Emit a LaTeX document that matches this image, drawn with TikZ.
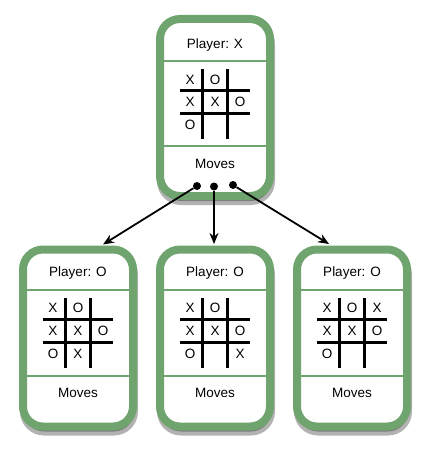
\documentclass[tikz,border=0pt]{standalone}
\usepackage{fontspec}
\setmainfont{Liberation Sans}
\usetikzlibrary{shadows,arrows.meta}
\definecolor{cardgreen}{RGB}{111,164,111}

\begin{document}
\begin{tikzpicture}[
    x=1pt, y=-1pt,
    every node/.style={text=black, font=\fontsize{13.5}{16}\selectfont},
    card/.style={draw=cardgreen, line width=8pt, fill=white, rounded corners=20pt,
                 minimum width=110pt, minimum height=177pt, inner sep=0pt,
                 drop shadow={shadow xshift=1pt, shadow yshift=-5pt, opacity=0.3,
                              fill=black, draw=black}},
    divider/.style={cardgreen, line width=2.5pt},
    grid/.style={black, line width=3pt},
    dot/.style={circle, fill=black, inner sep=0pt, minimum size=8pt},
    move/.style={-{Stealth[length=11pt, width=9pt]}, line width=1.8pt}
]
    \useasboundingbox (0,0) rectangle (430,452);

    % --- Card (Top): player X to move ---
    \begin{scope}[shift={(215,107.5)}]
        \node[card] (top) at (0,0) {};
        \draw[divider] (-51,-46.5) -- (51,-46.5);
        \draw[divider] (-51,38.5) -- (51,38.5);
        \node (top-player) at (0,-62.5) {Player: X};
        \node (top-moves) at (0,56) {Moves};

        \draw[grid] (-12.5,-39) -- (-12.5,31)
                    (12.5,-39) -- (12.5,31)
                    (-35,-17.5) -- (35,-17.5)
                    (-35,5.5) -- (35,5.5);
        \foreach \c/\r/\m in {0/0/X, 1/0/O, 0/1/X, 1/1/X, 2/1/O, 0/2/O}
            \node (top-\c\r) at (-25+25*\c, -28+22.5*\r) {\m};

        \node[dot] (top-d1) at (-18,78.5) {};
        \node[dot] (top-d2) at (-1,79) {};
        \node[dot] (top-d3) at (18,77.5) {};
    \end{scope}

    % --- Card 1 (Left) ---
    \begin{scope}[shift={(78,338)}]
        \node[card] (left) at (0,0) {};
        \draw[divider] (-51,-48) -- (51,-48);
        \draw[divider] (-51,38) -- (51,38);
        \node (left-player) at (0,-65) {Player: O};
        \node (left-moves) at (0,55) {Moves};

        \draw[grid] (-12.5,-40) -- (-12.5,30)
                    (12.5,-40) -- (12.5,30)
                    (-35,-19) -- (35,-19)
                    (-35,4) -- (35,4);
        \foreach \c/\r/\m in {0/0/X, 1/0/O, 0/1/X, 1/1/X, 2/1/O, 0/2/O, 1/2/X}
            \node (left-\c\r) at (-25+25*\c, -30+23*\r) {\m};

        \coordinate (left-in) at (25,-93.5);
    \end{scope}

    % --- Card 2 (Middle) ---
    \begin{scope}[shift={(215,338)}]
        \node[card] (mid) at (0,0) {};
        \draw[divider] (-51,-48) -- (51,-48);
        \draw[divider] (-51,38) -- (51,38);
        \node (mid-player) at (0,-65) {Player: O};
        \node (mid-moves) at (0,55) {Moves};

        \draw[grid] (-12.5,-40) -- (-12.5,30)
                    (12.5,-40) -- (12.5,30)
                    (-35,-19) -- (35,-19)
                    (-35,4) -- (35,4);
        \foreach \c/\r/\m in {0/0/X, 1/0/O, 0/1/X, 1/1/X, 2/1/O, 0/2/O, 2/2/X}
            \node (mid-\c\r) at (-25+25*\c, -30+23*\r) {\m};

        \coordinate (mid-in) at (-1,-94);
    \end{scope}

    % --- Card 3 (Right) ---
    \begin{scope}[shift={(352,338)}]
        \node[card] (right) at (0,0) {};
        \draw[divider] (-51,-48) -- (51,-48);
        \draw[divider] (-51,38) -- (51,38);
        \node (right-player) at (0,-65) {Player: O};
        \node (right-moves) at (0,55) {Moves};

        \draw[grid] (-12.5,-40) -- (-12.5,30)
                    (12.5,-40) -- (12.5,30)
                    (-35,-19) -- (35,-19)
                    (-35,4) -- (35,4);
        \foreach \c/\r/\m in {0/0/X, 1/0/O, 2/0/X, 0/1/X, 1/1/X, 2/1/O, 0/2/O}
            \node (right-\c\r) at (-25+25*\c, -30+23*\r) {\m};

        \coordinate (right-in) at (-23,-94);
    \end{scope}

    % moves
    \draw[move] (top-d1) -- (left-in);
    \draw[move] (top-d2) -- (mid-in);
    \draw[move] (top-d3) -- (right-in);

\end{tikzpicture}
\end{document}
